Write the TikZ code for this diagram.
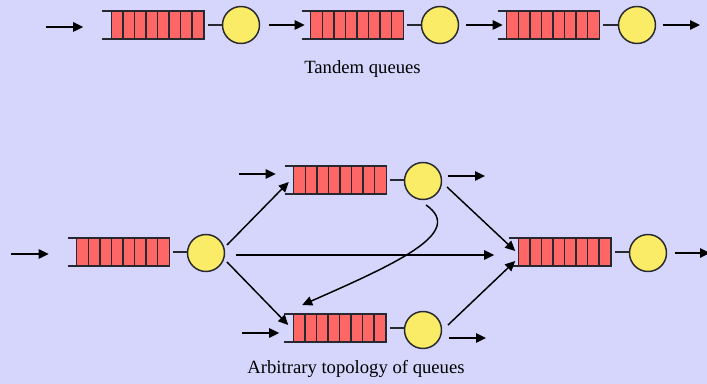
\documentclass[tikz,border=0pt]{standalone}
\usepackage{fontspec}
\setmainfont{Liberation Serif}
\usetikzlibrary{arrows.meta,calc}
\definecolor{bgcol}{RGB}{214,214,252}
\definecolor{qred}{RGB}{255,102,102}
\definecolor{srvyel}{RGB}{250,236,102}
\definecolor{ink}{RGB}{40,40,48}

\tikzset{
  queuebox/.style={draw=ink, fill=qred, line width=1.1pt,
    minimum width=69.4pt, minimum height=21pt, inner sep=0pt, outer sep=0pt,
    path picture={\foreach \i in {1,...,7}{
      \draw[ink, line width=1.1pt]
        ($(path picture bounding box.south west)!\i/8!(path picture bounding box.south east)$) --
        ($(path picture bounding box.north west)!\i/8!(path picture bounding box.north east)$);}}},
  server/.style={circle, draw=ink, fill=srvyel, line width=1.1pt,
    minimum size=27.75pt, inner sep=0pt, outer sep=0pt},
  arr/.style={draw=black, line width=1.1pt, -{Triangle[length=7.5pt,width=7pt]}},
  link/.style={draw=ink, line width=1.1pt, shorten <=3pt},
  qline/.style={draw=ink, line width=1.1pt},
  caption/.style={font=\fontsize{14}{16}\selectfont, anchor=base, inner sep=0pt},
}

% queue with open left end, followed by its server
\newcommand\qstation[4]{%
  \node[queuebox] (#1) at (#3) {};
  \draw[qline] ($(#1.north west)+(-9,0)$) -- (#1.north east);
  \draw[qline] ($(#1.south west)+(-9,0)$) -- (#1.south east);
  \node[server] (#2) at (#4) {};
  \draw[link] (#1.east) -- (#1.east -| #2.west);
}

\begin{document}
\begin{tikzpicture}[x=0.75pt, y=-0.75pt]
  \fill[bgcol] (0,0) rectangle (707,384);
  \useasboundingbox (0,0) rectangle (707,384);

  % ---- tandem queues ----
  \qstation{q1}{s1}{157.5,25}{241,25}
  \qstation{q2}{s2}{357,25}{440,25}
  \qstation{q3}{s3}{553,25}{637,25}

  \coordinate (src1) at (46,27);
  \coordinate (sink1) at (700,25);
  \draw[arr] (src1) -- ($(q1.west)+(-28,2)$);
  \draw[arr] ($(s1.east)+(9,0)$) -- ($(q2.west)+(-6,0)$);
  \draw[arr] ($(s2.east)+(7.5,0)$) -- ($(q3.west)+(-4,0)$);
  \draw[arr] ($(s3.east)+(7,0)$) -- (sink1);

  \node[caption] (cap1) at (362.5,74) {Tandem queues};

  % ---- arbitrary network ----
  \qstation{qA}{sA}{123,252}{206,253}
  \qstation{qB}{sB}{340,180}{423,181}
  \qstation{qC}{sC}{339.5,328}{423,330}
  \qstation{qD}{sD}{564.5,252}{648,253}

  \coordinate (srcA) at (11,254);
  \coordinate (srcB) at (239,174);
  \coordinate (srcC) at (242,333);
  \coordinate (sinkB) at (485,176);
  \coordinate (sinkC) at (486,338);
  \coordinate (sinkD) at (710,253);

  \draw[arr] (srcA) -- ($(qA.west)+(-28,2)$);
  \draw[arr] (srcB) -- ($(qB.west)+(-18,-6)$);
  \draw[arr] (srcC) -- ($(qC.west)+(-14,5)$);
  \draw[arr] ($(sB.east)+(6,-5)$) -- (sinkB);
  \draw[arr] ($(sC.east)+(7,8)$) -- (sinkC);
  \draw[arr] ($(sD.east)+(8,0)$) -- (sinkD);

  \draw[arr] ($(sA)+(21,-8)$) -- ($(qB.west)+(-5,2)$);
  \draw[arr] ($(sA)+(30,2)$) -- ($(qD.west)+(-24,3)$);
  \draw[arr] ($(sA)+(21,9)$) -- ($(qC.west)+(-5,-3)$);
  \draw[arr] ($(sB)+(24,6)$) -- ($(qD.west)+(-3,-1)$);
  \draw[arr] ($(sC)+(25,-5)$) -- ($(qD.west)+(-3,9)$);
  \draw[arr] ($(sB)+(3,24)$) .. controls ($(sB)+(42,51)$) and ($(sB)+(-23,81)$) .. ($(qC.north west)+(9,-9)$);

  \node[caption] (cap2) at (356,374) {Arbitrary topology of queues};
\end{tikzpicture}
\end{document}
